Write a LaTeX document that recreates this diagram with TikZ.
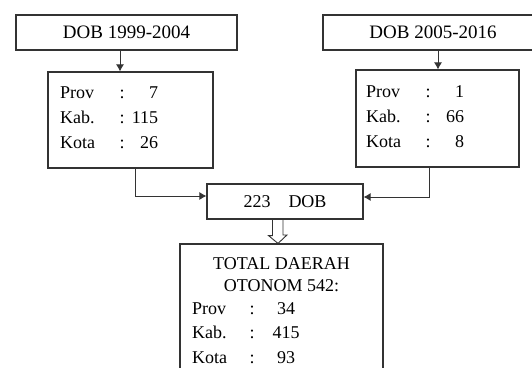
\documentclass[tikz,border=0pt]{standalone}
\usepackage{fontspec}
\setmainfont{Liberation Serif}
\usepackage{tikz}
\usetikzlibrary{arrows.meta}

\newcommand{\baris}[2]{\makebox[58pt][l]{#1}\makebox[8pt]{:}\makebox[32pt][r]{#2}}
\newcommand{\barisb}[2]{\makebox[56pt][l]{#1}\makebox[8pt]{:}\makebox[60pt]{#2}}

\begin{document}
\begin{tikzpicture}[x=1pt, y=-1pt, font=\fontsize{18}{25}\selectfont]

% Set the overall size of the picture
\useasboundingbox (0,0) rectangle (532,367);
\clip (0,0) rectangle (532,367);

% Define styles for boxes, texts and arrows
\tikzstyle{kotak} = [draw=black!80, line width=1.1pt, rectangle, inner sep=0pt]
\tikzstyle{isi} = [inner sep=0pt, anchor=base west]
\tikzstyle{panah} = [draw=black!80, line width=1pt, -{Latex[length=7pt, width=8pt]}]

% Boxes
\node[kotak, minimum width=221pt, minimum height=35pt, font=\fontsize{19}{25}\selectfont] (dobA) at (126.5,32.5) {DOB 1999-2004};
\node[kotak, minimum width=220pt, minimum height=35pt, font=\fontsize{19}{25}\selectfont] (dobB) at (433,32.5) {DOB 2005-2016};
\node[kotak, minimum width=165pt, minimum height=96pt] (isiA) at (130.5,120) {};
\node[kotak, minimum width=163pt, minimum height=97pt] (isiB) at (437.5,118.5) {};
\node[kotak, minimum width=156pt, minimum height=35pt] (jumlah) at (285,201.5) {223\quad DOB};
\node[kotak, minimum width=203pt, minimum height=160pt] (total) at (281.5,324) {};

% Texts in the boxes
\node[isi] (teksA) at (60,98) {\begin{tabular}[t]{@{}l@{}}
    \baris{Prov}{7}\\ \baris{Kab.}{115}\\ \baris{Kota}{26}
  \end{tabular}};
\node[isi] (teksB) at (366,97) {\begin{tabular}[t]{@{}l@{}}
    \baris{Prov}{1}\\ \baris{Kab.}{66}\\ \baris{Kota}{8}
  \end{tabular}};
\node[isi, anchor=base, font=\fontsize{18}{22}\selectfont] (judul) at (281.5,269) {\begin{tabular}[t]{@{}c@{}}
    TOTAL DAERAH\\ OTONOM 542:
  \end{tabular}};
\node[isi, font=\fontsize{18}{24.5}\selectfont] (teksC) at (192,314) {\begin{tabular}[t]{@{}l@{}}
    \barisb{Prov}{34}\\ \barisb{Kab.}{415}\\ \barisb{Kota}{93}
  \end{tabular}};

% Arrows
\draw[panah] ([xshift=-6.5pt]dobA.south) -- ([xshift=-6.5pt]dobA.south |- isiA.north);
\draw[panah] ([xshift=5pt]dobB.south) -- ([xshift=5pt]dobB.south |- isiB.north);
\draw[panah] ([xshift=4.5pt]isiA.south) |- ([yshift=5.5pt]jumlah.west);
\draw[panah] ([xshift=-8.5pt]isiB.south) |- ([yshift=4.5pt]jumlah.east);

% Hollow arrow to the total
\draw[draw=black!80, line width=0.9pt] ([xshift=-12.5pt]jumlah.south) -- ++(0,16) -- ++(-4,0)
  -- ([xshift=-3.5pt]total.north) -- ++(9,-8.5) -- ++(-4,0) -- ++(0,-16);
\end{tikzpicture}
\end{document}
